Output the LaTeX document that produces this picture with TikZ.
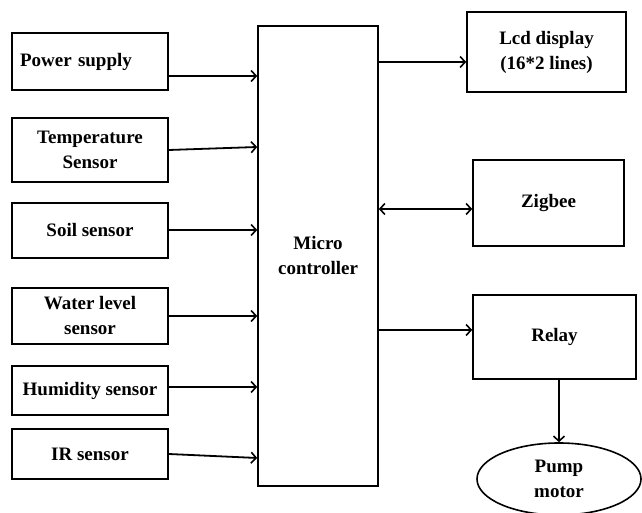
\documentclass[tikz,border=0pt]{standalone}
\usepackage{fontspec}
\setmainfont{Liberation Serif}
\usetikzlibrary{arrows.meta,shapes.geometric}

\begin{document}
\begin{tikzpicture}[x=1pt,y=1pt,
    >={Straight Barb[length=5pt,width=11pt,line width=1.6pt]},
    blk/.style={draw,line width=1.6pt,align=center,inner sep=0pt,
      font=\fontsize{19}{25}\selectfont\bfseries},
    link/.style={line width=1.8pt,->}]

  \useasboundingbox (0,0) rectangle (642,513);

  % sensors on the left
  \node[blk,minimum width=156pt,minimum height=57pt,text width=140pt,align=left] (power) at (90,451.5) {Power supply};
  \node[blk,minimum width=156pt,minimum height=64pt] (temp) at (90,363) {Temperature\\Sensor};
  \node[blk,minimum width=156pt,minimum height=55pt] (soil) at (90,282.5) {Soil sensor};
  \node[blk,minimum width=156pt,minimum height=56pt] (water) at (90,197) {Water level\\sensor};
  \node[blk,minimum width=156pt,minimum height=49pt] (humid) at (90,122.5) {Humidity sensor};
  \node[blk,minimum width=156pt,minimum height=50pt] (ir) at (90,59) {IR sensor};

  % controller
  \node[blk,minimum width=120pt,minimum height=460pt] (mcu) at (318,257) {Micro\\controller};

  % outputs on the right
  \node[blk,minimum width=159pt,minimum height=80pt] (lcd) at (546.5,461) {Lcd display\\(16*2 lines)};
  \node[blk,minimum width=151pt,minimum height=86pt] (zigbee) at (548.5,310) {Zigbee};
  \node[blk,minimum width=163pt,minimum height=84pt] (relay) at (554.5,176) {Relay};
  \node[blk,ellipse,minimum width=164pt,minimum height=72pt] (pump) at (559,34) {Pump\\motor};

  \draw[link] ([yshift=-14.5pt]power.east) -- ([yshift=-14.5pt]power.east -| mcu.west);
  \draw[link] (temp.east) -- ([yshift=3pt]temp.east -| mcu.west);
  \draw[link] ([yshift=0.5pt]soil.east) -- ([yshift=0.5pt]soil.east -| mcu.west);
  \draw[link] (water.east) -- (water.east -| mcu.west);
  \draw[link] ([yshift=3.5pt]humid.east) -- ([yshift=3.5pt]humid.east -| mcu.west);
  \draw[link] (ir.east) -- ([yshift=-4pt]ir.east -| mcu.west);

  \draw[link] ([yshift=-10pt]lcd.west -| mcu.east) -- ([yshift=-10pt]lcd.west);
  \draw[link,<->] ([yshift=-6pt]zigbee.west -| mcu.east) -- ([yshift=-6pt]zigbee.west);
  \draw[link] ([yshift=7pt]relay.west -| mcu.east) -- ([yshift=7pt]relay.west);
  \draw[link] (relay.south -| pump.north) -- (pump.north);

\end{tikzpicture}
\end{document}
